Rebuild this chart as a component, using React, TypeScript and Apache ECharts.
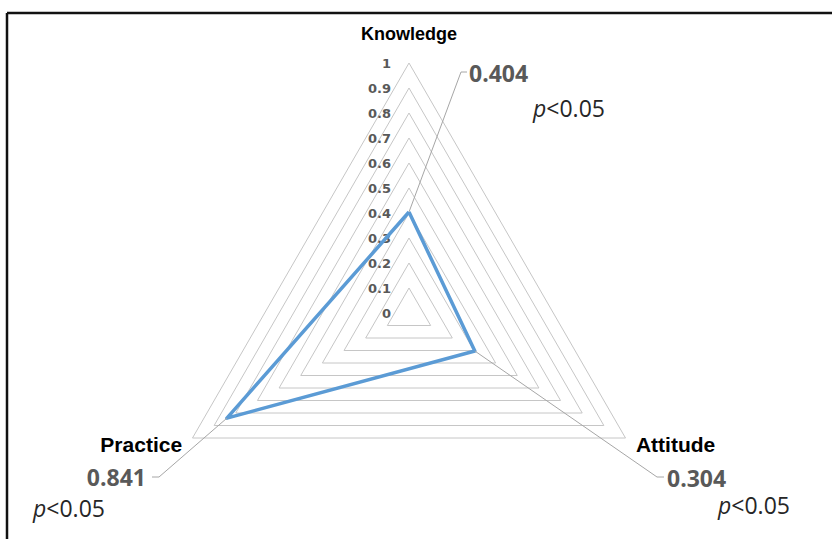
import React, { useEffect, useRef } from "react";
import * as echarts from "echarts";

const indicators = ["Knowledge", "Practice", "Attitude"];
const scores = [0.404, 0.841, 0.304];
const scoreLabels = ["0.404", "0.841", "0.304"];
const pLabels = ["p<0.05", "p<0.05", "p<0.05"];

// layout
const W = 832;
const H = 539;
const CX = 409;
const CY = 313;
const R = 250;
const labelPos = [
  { x: 469, y: 73, align: "left" },
  { x: 146, y: 477, align: "right" },
  { x: 667, y: 478, align: "left" },
];
// leader stub: outer end, inner end (then to data point)
const leaderStub = [
  [[467, 72], [461, 72]],
  [[152, 477], [159, 477]],
  [[664, 477], [657, 477]],
];
const pPos = [
  { x: 533, y: 108 },
  { x: 33, y: 508 },
  { x: 718, y: 505 },
];

function dataPoint(i: number, v: number) {
  const a = ((90 + (i * 360) / indicators.length) * Math.PI) / 180;
  return [CX + v * R * Math.cos(a), CY - v * R * Math.sin(a)];
}

export default function App() {
  const ref = useRef<HTMLDivElement>(null);
  useEffect(() => {
    if (!ref.current) return;
    const chart = echarts.init(ref.current, null, { renderer: "svg" });

    const graphics: any[] = [
      { type: "line", shape: { x1: 7, y1: 13, x2: 7, y2: H }, style: { stroke: "#111", lineWidth: 2.5 } },
      { type: "line", shape: { x1: 7, y1: 13, x2: W, y2: 13 }, style: { stroke: "#111", lineWidth: 2.5 } },
    ];
    scores.forEach((v, i) => {
      const p = dataPoint(i, v);
      const lp = labelPos[i];
      graphics.push({
        type: "polyline",
        shape: { points: [leaderStub[i][0], leaderStub[i][1], p] },
        style: { stroke: "#a6a6a6", lineWidth: 1, fill: null },
        z: 5,
      });
      graphics.push({
        type: "text",
        x: lp.x,
        y: lp.y,
        style: {
          text: scoreLabels[i],
          font: "bold 23px 'Open Sans', sans-serif",
          lineHeight: 22,
          fill: "#595959",
          textAlign: lp.align,
          textVerticalAlign: "middle",
        },
      });
      const pp = pPos[i];
      graphics.push({
        type: "text",
        x: pp.x,
        y: pp.y,
        style: {
          text: "{i|" + pLabels[i].charAt(0) + "}{n|" + pLabels[i].slice(1) + "}",
          textAlign: "left",
          textVerticalAlign: "middle",
          rich: {
            i: { fontStyle: "italic", fontSize: 23, lineHeight: 22, fontFamily: "'Open Sans', sans-serif", fill: "#262626" },
            n: { fontSize: 23, lineHeight: 22, fontFamily: "'Open Sans', sans-serif", fill: "#262626" },
          },
        },
      });
    });

    chart.setOption({
      animation: false,
      backgroundColor: "#ffffff",
      radar: {
        center: [CX, CY],
        radius: R,
        startAngle: 90,
        shape: "polygon",
        splitNumber: 10,
        nameGap: 12,
        axisName: {
          color: "#000",
          fontWeight: "bold",
          fontFamily: "'Liberation Sans', Arial, sans-serif",
          formatter: (name: string) => (name === "Knowledge" ? "{k|" + name + "}" : "{p|" + name + "}"),
          rich: {
            k: { fontSize: 18, fontWeight: "bold", color: "#000", padding: [0, 0, 8, 0], fontFamily: "'Liberation Sans', Arial, sans-serif" },
            p: { fontSize: 21, fontWeight: "bold", color: "#000", fontFamily: "'Liberation Sans', Arial, sans-serif" },
          },
        },
        axisLine: { show: false },
        axisTick: { show: false },
        splitArea: { show: false },
        splitLine: { lineStyle: { color: "#c6c6c6", width: 1 } },
        axisLabel: {
          show: true,
          margin: 18,
          color: "#595959",
          fontWeight: "bold",
          fontSize: 13,
          fontFamily: "'DejaVu Sans', Verdana, sans-serif",
        },
        indicator: indicators.map((name, i) => ({
          name,
          min: 0,
          max: 1,
          axisLabel: i === 0 ? { show: true } : { show: false },
        })),
      },
      graphic: graphics,
      series: [
        {
          type: "radar",
          symbol: "none",
          lineStyle: { color: "#5b9bd5", width: 3.5 },
          data: [{ value: scores, name: "Score" }],
          z: 3,
        },
      ],
    });
    return () => chart.dispose();
  }, []);
  return (
    <div
      ref={ref}
      style={{ position: "fixed", left: 0, top: 0, width: W, height: H, background: "#fff" }}
    />
  );
}
